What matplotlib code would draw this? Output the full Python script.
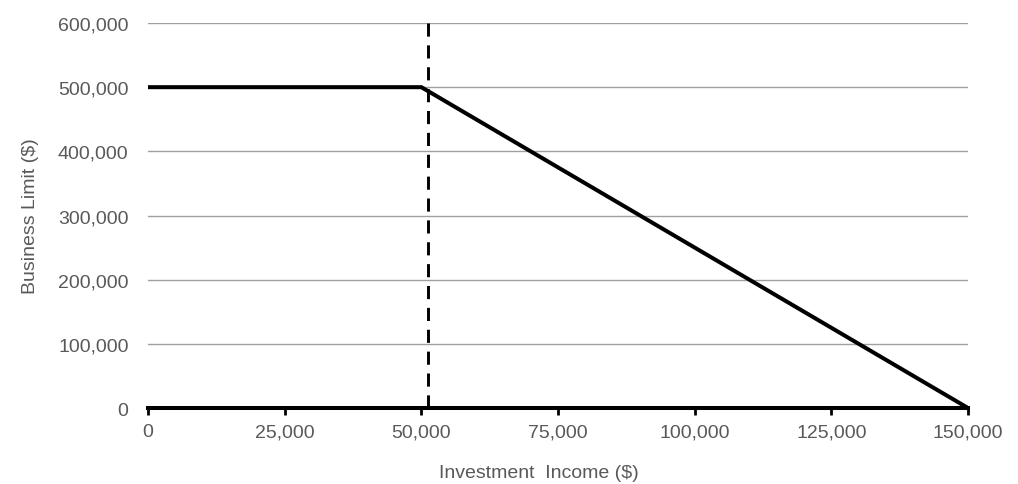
import matplotlib.pyplot as plt
from matplotlib.ticker import FuncFormatter

# ---------- Data ----------
income = [0, 50000, 150000]
business_limit = [500000, 500000, 0]
threshold_x = [51300, 51300]
threshold_y = [0, 600000]

x_ticks = [0, 25000, 50000, 75000, 100000, 125000, 150000]
y_ticks = [0, 100000, 200000, 300000, 400000, 500000, 600000]

plt.rcParams['font.family'] = ['Liberation Sans', 'DejaVu Sans']

fig = plt.figure(figsize=(10.18, 4.85), dpi=100)
ax = fig.add_axes([0.1454, 0.1567, 0.8055, 0.7938])

# ---------- Lines ----------
ax.plot(income, business_limit, color='black', lw=2.9, solid_joinstyle='miter', zorder=3)
ax.plot(threshold_x, threshold_y, color='black', lw=2.1, ls=(0, (4.5, 3)), zorder=3)

# ---------- Axes styling ----------
ax.set_xlim(0, 150000)
ax.set_ylim(0, 600000)
ax.set_xticks(x_ticks)
ax.set_yticks(y_ticks)
fmt = FuncFormatter(lambda v, p: f"{int(v):,}")
ax.xaxis.set_major_formatter(fmt)
ax.yaxis.set_major_formatter(fmt)

ax.grid(axis='y', color='#a0a0a0', lw=1.0)
ax.set_axisbelow(True)
for s in ['top', 'right', 'left']:
    ax.spines[s].set_visible(False)
ax.spines['bottom'].set_linewidth(2.9)
ax.spines['bottom'].set_color('black')
ax.spines['bottom'].set_zorder(4)

ax.tick_params(axis='x', direction='out', length=5, width=2, color='black',
               labelsize=14, labelcolor='#595959', pad=6)
ax.tick_params(axis='y', length=0, labelsize=14, labelcolor='#595959', pad=14)

ax.set_xlabel("Investment  Income ($)", fontsize=14, color='#595959', labelpad=16)
ax.xaxis.set_label_coords(0.477, -0.145)
ax.set_ylabel("Business Limit ($)", fontsize=14, color='#595959', labelpad=14)

plt.savefig("out.png", dpi=100)
